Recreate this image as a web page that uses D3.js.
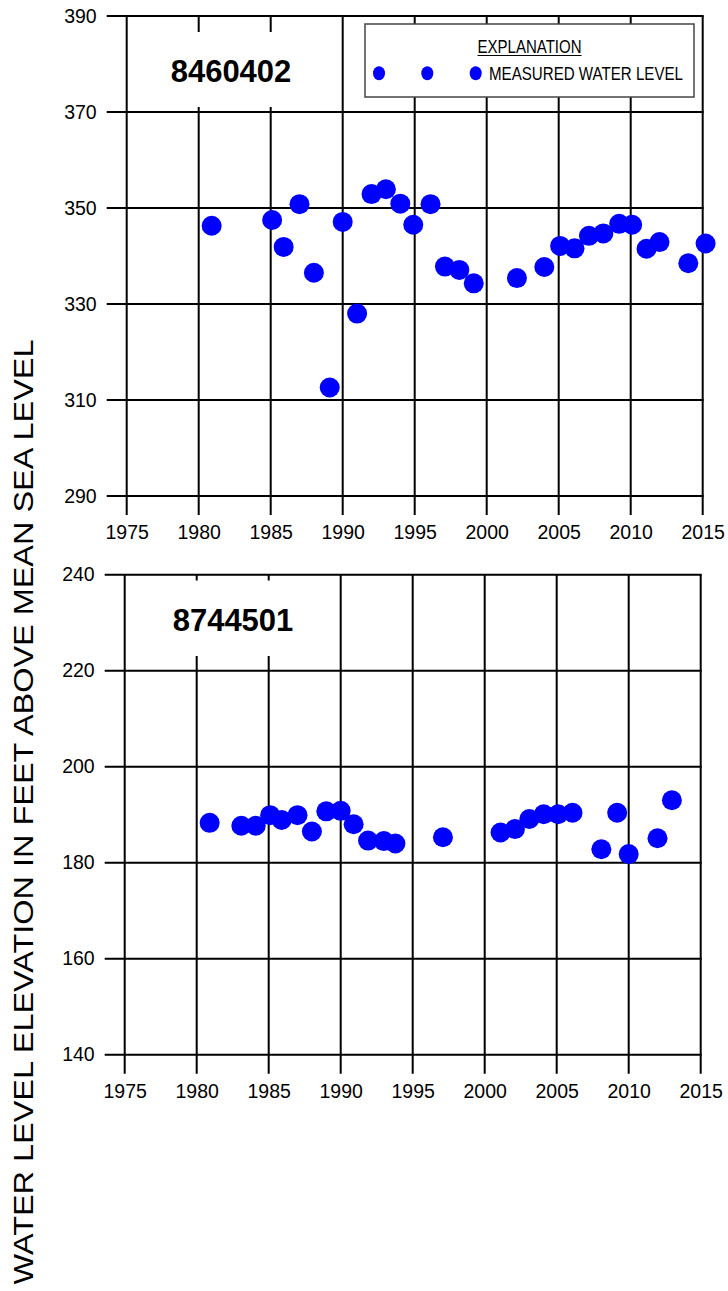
<!DOCTYPE html>
<html>
<head>
<meta charset="utf-8">
<script src="https://cdn.jsdelivr.net/npm/d3@7"></script>
<style>
  html, body { margin: 0; padding: 0; background: #fff; }
  svg { display: block; font-family: "Liberation Sans", Arial, sans-serif; }
</style>
</head>
<body>
<svg id="chart" width="728" height="1291"></svg>
<script>
// ---- Data ----
const xTicks = [1975, 1980, 1985, 1990, 1995, 2000, 2005, 2010, 2015];

const wellA = "8460402";
const yearsA = [1980.9, 1985.1, 1985.9, 1987.0, 1988.0, 1989.1, 1990.0, 1991.0, 1992.0, 1993.0, 1994.0, 1994.9, 1996.1, 1997.1, 1998.1, 1999.1, 2002.1, 2004.0, 2005.1, 2006.1, 2007.1, 2008.1, 2009.2, 2010.1, 2011.1, 2012.0, 2014.0, 2015.2];
const levelsA = [346.3, 347.5, 341.9, 350.8, 336.5, 312.6, 347.1, 328.0, 352.9, 353.9, 350.9, 346.5, 350.8, 337.8, 337.1, 334.3, 335.4, 337.7, 342.1, 341.6, 344.2, 344.7, 346.7, 346.5, 341.5, 342.9, 338.5, 342.6];
const yTicksA = [290, 310, 330, 350, 370, 390];

const wellB = "8744501";
const yearsB = [1980.9, 1983.1, 1984.1, 1985.1, 1985.9, 1987.0, 1988.0, 1989.0, 1990.0, 1990.9, 1991.9, 1993.0, 1993.8, 1997.1, 2001.1, 2002.1, 2003.1, 2004.1, 2005.1, 2006.1, 2008.1, 2009.2, 2010.0, 2012.0, 2013.0];
const levelsB = [188.3, 187.7, 187.7, 189.9, 188.9, 189.9, 186.5, 190.7, 190.8, 188.0, 184.6, 184.5, 184.0, 185.3, 186.3, 187.0, 189.1, 190.1, 190.1, 190.4, 182.8, 190.4, 181.8, 185.1, 193.0];
const yTicksB = [140, 160, 180, 200, 220, 240];

const legendTitle = "EXPLANATION";
const legendLabel = "MEASURED WATER LEVEL";
const yTitle = "WATER LEVEL ELEVATION IN FEET ABOVE MEAN SEA LEVEL";

// ---- Drawing ----
const svg = d3.select("#chart");
const BLUE = "#0000ff";

function panel(cfg) {
  const x = d3.scaleLinear().domain([1975, 2015]).range([cfg.x0, cfg.x1]);
  const y = d3.scaleLinear().domain(cfg.yDomain).range([cfg.y0, cfg.y1]);
  const g = svg.append("g");

  // vertical grid lines (extend below as ticks)
  g.selectAll("line.v").data(xTicks).join("line")
    .attr("x1", d => x(d)).attr("x2", d => x(d))
    .attr("y1", cfg.y1).attr("y2", cfg.y0 + 19)
    .attr("stroke", "#000").attr("stroke-width", 2);

  // horizontal grid lines (extend left as ticks)
  g.selectAll("line.h").data(cfg.yTicks).join("line")
    .attr("x1", cfg.x0 - 20).attr("x2", cfg.x1 + 1)
    .attr("y1", d => y(d)).attr("y2", d => y(d))
    .attr("stroke", "#000").attr("stroke-width", 2);

  // y tick labels via axis
  const ya = g.append("g").attr("transform", `translate(${cfg.x0 - 20},0)`)
    .call(d3.axisLeft(y).tickValues(cfg.yTicks).tickSize(0).tickPadding(10).tickFormat(d3.format("d")));
  ya.select(".domain").remove();
  ya.selectAll("text").attr("font-size", 19.5).attr("font-family", "Liberation Sans, Arial, sans-serif").attr("fill", "#000");

  // x tick labels via axis
  const xa = g.append("g").attr("transform", `translate(0,${cfg.y0 + 19})`)
    .call(d3.axisBottom(x).tickValues(xTicks).tickSize(0).tickPadding(10).tickFormat(d3.format("d")));
  xa.select(".domain").remove();
  xa.selectAll("text").attr("font-size", 19.5).attr("font-family", "Liberation Sans, Arial, sans-serif").attr("fill", "#000");

  // well label box (white, hides grid)
  g.append("rect")
    .attr("x", x(1975) + 2.5).attr("y", cfg.labelBox[0])
    .attr("width", x(1990) - x(1975) - 4.5).attr("height", cfg.labelBox[1] - cfg.labelBox[0])
    .attr("fill", "#fff");
  g.append("text")
    .attr("x", cfg.labelX).attr("y", cfg.labelY)
    .attr("text-anchor", "middle").attr("dominant-baseline", "central")
    .attr("font-size", 31).attr("font-weight", "bold")
    .text(cfg.name);

  // data points
  g.selectAll("circle.pt").data(cfg.years.map((yr, i) => [yr, cfg.levels[i]])).join("circle")
    .attr("cx", d => x(d[0])).attr("cy", d => y(d[1]))
    .attr("r", 10).attr("fill", BLUE);

  return { x, y, g };
}

const panelTop = panel({
  x0: 126.7, x1: 702.7, y0: 496, y1: 16, yDomain: [290, 390], yTicks: yTicksA,
  years: yearsA, levels: levelsA, name: wellA,
  labelBox: [32, 107], labelX: 231, labelY: 71
});

const panelBottom = panel({
  x0: 124.7, x1: 700.7, y0: 1054.7, y1: 574.7, yDomain: [140, 240], yTicks: yTicksB,
  years: yearsB, levels: levelsB, name: wellB,
  labelBox: [580.5, 656], labelX: 233, labelY: 620
});

// legend
const lg = svg.append("g");
lg.append("rect").attr("x", 365).attr("y", 24).attr("width", 329).attr("height", 73)
  .attr("fill", "#fff").attr("stroke", "#444").attr("stroke-width", 1.5);
lg.append("text").attr("x", 529.5).attr("y", 53).attr("text-anchor", "middle")
  .attr("font-size", 17.5).attr("textLength", 104).attr("lengthAdjust", "spacingAndGlyphs")
  .text(legendTitle);
lg.append("line").attr("x1", 477.5).attr("x2", 581.5).attr("y1", 55.5).attr("y2", 55.5)
  .attr("stroke", "#000").attr("stroke-width", 1.2);
lg.selectAll("ellipse").data([379, 427.3, 475.7]).join("ellipse")
  .attr("cx", d => d).attr("cy", 73.3).attr("rx", 6).attr("ry", 7).attr("fill", BLUE);
lg.append("text").attr("x", 489).attr("y", 80).attr("text-anchor", "start")
  .attr("font-size", 18).attr("textLength", 194).attr("lengthAdjust", "spacingAndGlyphs")
  .text(legendLabel);

// y-axis title
svg.append("text")
  .attr("transform", "translate(33,812) rotate(-90)")
  .attr("text-anchor", "middle")
  .attr("font-size", 28).attr("textLength", 945).attr("lengthAdjust", "spacingAndGlyphs")
  .text(yTitle);
</script>
</body>
</html>
